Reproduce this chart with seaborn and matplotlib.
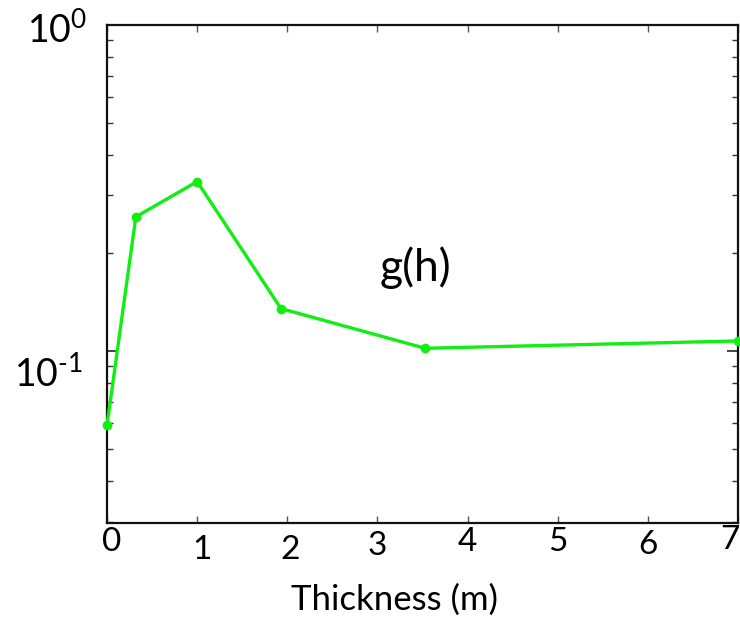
import matplotlib
matplotlib.use("Agg")
import matplotlib.pyplot as plt
import matplotlib.transforms as mtransforms
from matplotlib.ticker import LogLocator, NullFormatter
import seaborn as sns
import pandas as pd

# data
thickness = [0.0, 0.32, 1.0, 1.93, 3.53, 7.0]
g_values = [0.0593, 0.258, 0.331, 0.135, 0.102, 0.1074]
x_ticks = [0, 1, 2, 3, 4, 5, 6, 7]
x_tick_labels = ["0", "1", "2", "3", "4", "5", "6", "7"]
y_ticks = [0.1, 1.0]
y_tick_labels = [r"$10^{\text{-1}}$", r"$10^{0}$"]
x_label = "Thickness (m)"
curve_label = "g(h)"

sns.set_style("ticks")
plt.rcParams["font.family"] = ["Lato", "DejaVu Sans"]
plt.rcParams["mathtext.fontset"] = "custom"
plt.rcParams["mathtext.rm"] = "Lato"
plt.rcParams["mathtext.it"] = "Lato:italic"
plt.rcParams["mathtext.bf"] = "Lato:bold"
plt.rcParams["text.color"] = "black"
plt.rcParams["axes.labelcolor"] = "black"
plt.rcParams["xtick.labelcolor"] = "black"
plt.rcParams["ytick.labelcolor"] = "black"

df = pd.DataFrame({"h": thickness, "g": g_values})

fig = plt.figure(figsize=(7.40, 6.19), dpi=100)
ax = fig.add_axes([107 / 740, 1 - 523 / 619, (738 - 107) / 740, (523 - 25) / 619])

sns.lineplot(data=df, x="h", y="g", ax=ax, color="#11ee11", linewidth=2.4,
             marker="o", markersize=7, markeredgewidth=0, clip_on=False, zorder=3)

ax.set_yscale("log")
ax.set_xlim(0, 7)
ax.set_ylim(0.0297, 1.0)

ax.set_xticks(x_ticks)
ax.set_xticklabels(x_tick_labels)
ax.set_yticks(y_ticks)
ax.set_yticklabels(y_tick_labels)
ax.yaxis.set_minor_locator(LogLocator(base=10, subs=[0.2, 0.3, 0.4, 0.5, 0.6, 0.7, 0.8, 0.9]))
ax.yaxis.set_minor_formatter(NullFormatter())

for s in ax.spines.values():
    s.set_visible(True)
    s.set_linewidth(1.6)
    s.set_color("#111111")

ax.tick_params(axis="x", which="major", direction="in", length=5, width=1.0,
               top=True, bottom=True, labelsize=24, pad=3, color="#555555",
               labelcolor="black")
ax.tick_params(axis="y", which="major", direction="in", length=8, width=1.2,
               left=True, right=True, labelsize=27, pad=14, color="#222222",
               labelcolor="black")
ax.tick_params(axis="y", which="minor", direction="in", length=4, width=1.0,
               left=True, right=True, color="#333333")

# slight offsets of individual labels as in the reference
ylb = ax.get_yticklabels()
ylb[0].set_transform(ylb[0].get_transform() +
                     mtransforms.ScaledTranslation(-0.05, -0.2, fig.dpi_scale_trans))
ylb[1].set_transform(ylb[1].get_transform() +
                     mtransforms.ScaledTranslation(0.0, -0.02, fig.dpi_scale_trans))
x_shift = [0.05, 0.05, 0.03, 0.0, 0.0, 0.0, 0.0, -0.08]
x_drop = [0.0, -0.08, -0.08, -0.04, 0.0, 0.0, -0.03, 0.02]
for lb, dx, dy in zip(ax.get_xticklabels(), x_shift, x_drop):
    lb.set_transform(lb.get_transform() +
                     mtransforms.ScaledTranslation(dx, dy, fig.dpi_scale_trans))

ax.set_xlabel(x_label, fontsize=25, labelpad=10, color="black")
ax.set_ylabel("")
xl = ax.xaxis.label
xl.set_transform(xl.get_transform() +
                 mtransforms.ScaledTranslation(-0.28, -0.05, fig.dpi_scale_trans))

ax.text(3.42, 0.180, curve_label, fontsize=32, ha="center", va="center",
        color="black")

fig.savefig("out.png", dpi=100)
